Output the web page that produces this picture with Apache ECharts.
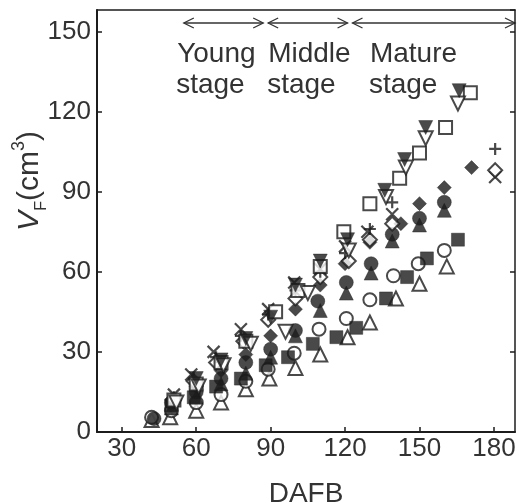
<!DOCTYPE html>
<html>
<head>
<meta charset="utf-8">
<script src="https://cdn.jsdelivr.net/npm/echarts@6/dist/echarts.min.js"></script>
<style>html,body{margin:0;padding:0;background:#fff;}#c{width:519px;height:503px;}</style>
</head>
<body>
<div id="c"></div>
<script>
// ---- data (DAFB, V_F cm3) ----
const dafbTicks = [30, 60, 90, 120, 150, 180];
const volumeTicksInterval = 30;
const stageNames = ['Young', 'Middle', 'Mature'];
const stageStart = [55, 89, 123];
const stageEnd = [87, 121, 188.5];
const stageLabelX = [52.3, 89, 130];

// low group
const openTriangle = [[42,4.5],[49.5,5.5],[60,8],[70,11],[80,16],[89.5,20],[100,24],[110,29],[121,35.5],[130,41],[140.5,50],[150,55.5],[161,62]];
const openCircle = [[42,5.5],[50,8],[60,11],[70,14],[80,19],[89,23.5],[99.5,29.5],[109.5,38.5],[120.5,42.5],[130,49.5],[139.5,58.5],[149.5,63],[160,68]];
const filledSquare = [[50,10],[59,13],[68,17],[78,20],[88,25],[97,28],[107,33],[116.5,35.5],[124.5,39],[136.5,50],[145,58],[153,65],[165.5,72]];
// middle group
const filledCircle = [[43,5],[50,11],[60,15],[70,20],[80,26],[90,31],[100,38],[109,49],[120.5,56],[130.5,63],[139,74],[150,80],[160,86]];
const filledTriangle = [[50,9],[60,13],[70,18],[80,22],[90,28],[100,36],[110,45.5],[120.5,52],[130.5,59.5],[139,71.5],[150,77.5],[160,83]];
const filledDiamond = [[50,12],[60,17],[70,23],[80,29],[90,36],[100,46],[110,55],[120,63],[130,71],[142.5,78],[150,85.5],[160,91.5],[171,99]];
// upper-middle group
const crossX = [[51,14],[58,21.5],[67,30],[78,38.5],[89,46],[99.5,56],[110,61],[120,69.5],[129,75],[139,81.5],[180.5,95.5]];
const openDiamond = [[51,12],[59,19],[68,26],[79,34],[89,42],[100,50],[110,58],[121.5,64],[130,72],[139,78],[180.5,98]];
const plusMark = [[51,13],[59,20],[68,28],[78,36],[89,44],[100,53],[110,60],[120,67],[130,76],[139,86],[180.5,106]];
// high group
const openSquare = [[51,12],[60,18],[70,26],[80,34],[92,45],[101,53],[110,62],[119.5,75],[130,85.5],[142,95],[150,104.5],[160.5,114],[170.5,127]];
const openDownTriangle = [[52,11],[61,17],[71,25],[82,33],[96,37.5],[105,52],[121.5,68],[136.5,88],[144.5,99],[152.5,110],[165.5,123]];
const filledDownTriangle = [[60,20],[70,27],[80,35],[90,43],[100,55],[110,64],[121,72],[136,90.5],[144,102],[152.5,114],[166,127.8]];

const INK = '#1c1c1c';
const XPATH = 'path://M0,0L10,10M10,0L0,10';
const PPATH = 'path://M5,0L5,10M0,5L10,5';

function mk(name, data, symbol, filled, size, rotate) {
  const s = {
    name: name, type: 'scatter', data: data, symbol: symbol, symbolSize: size,
    symbolRotate: rotate || 0, symbolKeepAspect: true,
    itemStyle: filled ? { color: INK, borderColor: INK, borderWidth: 0.5 }
                      : { color: '#fff', borderColor: INK, borderWidth: 2 },
    emphasis: { disabled: true }, z: 3
  };
  if (symbol === XPATH || symbol === PPATH) {
    s.itemStyle = { color: 'none', borderColor: INK, borderWidth: 2.2 };
  }
  return s;
}

const series = [
  mk('openTriangle', openTriangle, 'triangle', false, 14),
  mk('openCircle', openCircle, 'circle', false, 13),
  mk('filledSquare', filledSquare, 'rect', true, 13),
  mk('filledCircle', filledCircle, 'circle', true, 14),
  mk('filledTriangle', filledTriangle, 'triangle', true, 14),
  mk('filledDiamond', filledDiamond, 'diamond', true, 14),
  mk('cross', crossX, XPATH, false, 12),
  mk('openDiamond', openDiamond, 'diamond', false, 14),
  mk('plus', plusMark, PPATH, false, 12),
  mk('openSquare', openSquare, 'rect', false, 13),
  mk('openDownTriangle', openDownTriangle, 'triangle', false, 14, 180),
  mk('filledDownTriangle', filledDownTriangle, 'triangle', true, 14, 180)
];

const FONT = '"Liberation Sans", Arial, sans-serif';
const chart = echarts.init(document.getElementById('c'), null, { renderer: 'canvas' });
chart.setOption({
  animation: false,
  backgroundColor: '#fff',
  grid: { left: 97, right: 4, top: 10, bottom: 71, containLabel: false, outerBoundsMode: 'none' },
  xAxis: [{
    type: 'value', min: 20, max: 188.5, position: 'bottom',
    axisLine: { show: true, onZero: false, lineStyle: { color: INK, width: 2 } },
    axisTick: { show: true, inside: true, length: 5, customValues: dafbTicks, lineStyle: { color: INK, width: 1.5 } },
    axisLabel: { customValues: dafbTicks, color: '#333', fontSize: 26, fontFamily: FONT, margin: 4 },
    splitLine: { show: false },
    name: 'DAFB', nameLocation: 'middle', nameGap: 48,
    nameTextStyle: { color: '#333', fontSize: 28, fontFamily: FONT }
  }, {
    type: 'value', min: 20, max: 188.5, position: 'top',
    axisLine: { show: true, onZero: false, lineStyle: { color: INK, width: 1.5 } },
    axisTick: { show: false }, axisLabel: { show: false }, splitLine: { show: false }
  }],
  yAxis: [{
    type: 'value', min: 0, max: 158, interval: volumeTicksInterval, position: 'left',
    axisLine: { show: true, onZero: false, lineStyle: { color: INK, width: 2 } },
    axisTick: { show: true, inside: true, length: 5, lineStyle: { color: INK, width: 1.5 } },
    axisLabel: { color: '#333', fontSize: 26, fontFamily: FONT, margin: 6 },
    splitLine: { show: false }
  }, {
    type: 'value', min: 0, max: 158, interval: volumeTicksInterval, position: 'right',
    axisLine: { show: true, onZero: false, lineStyle: { color: INK, width: 1.5 } },
    axisTick: { show: true, inside: true, length: 5, lineStyle: { color: INK, width: 1.5 } },
    axisLabel: { show: false }, splitLine: { show: false }
  }],
  series: series
});

// annotations
const gfx = [];
const arrowPx = 23;
for (let i = 0; i < stageNames.length; i++) {
  const a = chart.convertToPixel({ xAxisIndex: 0, yAxisIndex: 0 }, [stageStart[i], 0])[0];
  const b = chart.convertToPixel({ xAxisIndex: 0, yAxisIndex: 0 }, [stageEnd[i], 0])[0];
  const t = chart.convertToPixel({ xAxisIndex: 0, yAxisIndex: 0 }, [stageLabelX[i], 0])[0];
  const ls = { stroke: '#333', lineWidth: 1.3, fill: null };
  gfx.push({ type: 'line', shape: { x1: a, y1: arrowPx, x2: b, y2: arrowPx }, style: ls, silent: true });
  gfx.push({ type: 'polyline', shape: { points: [[a + 10, arrowPx - 5], [a, arrowPx], [a + 10, arrowPx + 5]] }, style: ls, silent: true });
  gfx.push({ type: 'polyline', shape: { points: [[b - 10, arrowPx - 5], [b, arrowPx], [b - 10, arrowPx + 5]] }, style: ls, silent: true });
  gfx.push({ type: 'text', x: t, y: 54, style: { text: stageNames[i], fill: '#333', font: '28px ' + FONT, textAlign: 'left', textVerticalAlign: 'middle' }, silent: true });
  gfx.push({ type: 'text', x: t - 1, y: 85, style: { text: 'stage', fill: '#333', font: '28px ' + FONT, textAlign: 'left', textVerticalAlign: 'middle' }, silent: true });
}
gfx.push({
  type: 'text', x: 30, y: 181, rotation: Math.PI / 2, silent: true,
  style: {
    text: '{v|V}{s|F}{n|(cm}{p|3}{n|)}',
    textAlign: 'center', textVerticalAlign: 'middle',
    rich: {
      v: { fontSize: 30, fontStyle: 'italic', fontFamily: FONT, fill: '#333', lineHeight: 40, verticalAlign: 'middle' },
      s: { fontSize: 16, fontFamily: FONT, fill: '#333', lineHeight: 40, verticalAlign: 'bottom' },
      n: { fontSize: 30, fontFamily: FONT, fill: '#333', lineHeight: 40, verticalAlign: 'middle' },
      p: { fontSize: 18, fontFamily: FONT, fill: '#333', lineHeight: 40, verticalAlign: 'top' }
    }
  }
});
chart.setOption({ graphic: gfx });
</script>
</body>
</html>
